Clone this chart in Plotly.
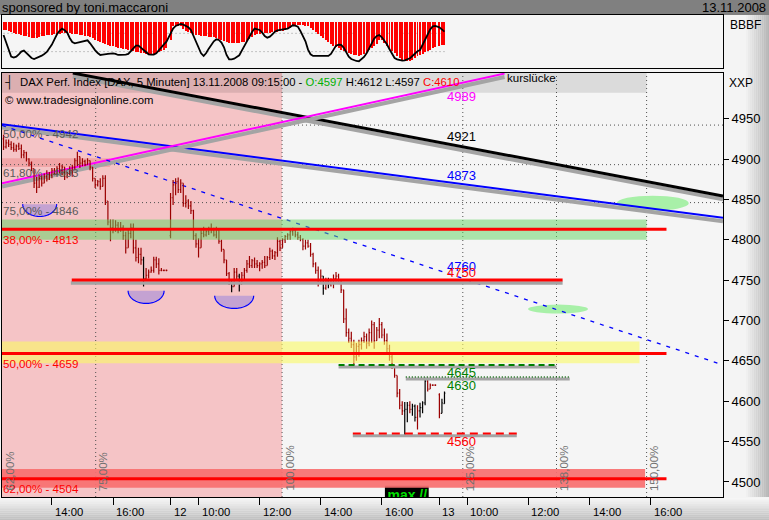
import numpy as np
import pandas as pd
import plotly.graph_objects as go

W, H = 769, 520
FONT = "Liberation Sans, Arial, sans-serif"

# ---------------- DATA ----------------
day0_times = pd.date_range("2008-11-11 12:25", "2008-11-11 17:45", freq="5min")
day1_times = pd.date_range("2008-11-12 09:05", "2008-11-12 17:45", freq="5min")
day2_times = pd.date_range("2008-11-13 09:05", "2008-11-13 09:15", freq="5min")
bar_times = day0_times.append(day1_times).append(day2_times)

opens = [
    4925, 4915, 4920, 4918, 4914, 4912, 4916, 4913, 4905, 4908, 4900, 4895, 4888, 4870, 4865, 4876, 4870, 4878, 4875, 4880,
    4886, 4882, 4888, 4886, 4890, 4878, 4882, 4886, 4890, 4898, 4903, 4895, 4897, 4893, 4898, 4890, 4876, 4868, 4872, 4866,
    4876, 4848, 4822, 4815, 4812, 4818, 4812, 4815, 4805, 4790, 4808, 4815, 4790, 4778, 4782, 4775, 4752, 4756, 4760, 4762,
    4775, 4770, 4762, 4762, 4762,
    4805, 4852, 4868, 4872, 4862, 4870, 4845, 4848, 4842, 4836, 4805, 4795, 4790, 4808, 4806, 4810, 4814, 4812, 4806, 4812,
    4798, 4788, 4775, 4758, 4748, 4742, 4760, 4755, 4745, 4756, 4762, 4770, 4768, 4774, 4770, 4768, 4770, 4772, 4768, 4778,
    4786, 4780, 4784, 4798, 4790, 4800, 4804, 4806, 4810, 4812, 4806, 4803, 4800, 4792, 4796, 4792, 4782, 4770, 4762, 4750,
    4755, 4740, 4748, 4745, 4750, 4752, 4755, 4750, 4738, 4702, 4685, 4678, 4670, 4655, 4668, 4670, 4675, 4680, 4672, 4685,
    4695, 4675, 4688, 4695, 4682, 4675, 4665, 4655, 4645, 4632, 4610, 4595, 4588, 4590, 4595, 4590, 4594, 4580, 4588, 4592,
    4598, 4625, 4615, 4620, 4620,
    4608, 4585, 4597,
]
highs = [
    4930, 4924, 4924, 4922, 4920, 4918, 4920, 4918, 4911, 4909, 4901, 4897, 4888, 4878, 4880, 4880, 4882, 4886, 4884, 4889,
    4889, 4891, 4895, 4893, 4890, 4884, 4891, 4893, 4901, 4909, 4903, 4901, 4899, 4901, 4898, 4890, 4876, 4874, 4876, 4880,
    4880, 4848, 4825, 4825, 4824, 4822, 4822, 4818, 4810, 4814, 4820, 4820, 4800, 4790, 4790, 4779, 4765, 4763, 4767, 4779,
    4779, 4777, 4765, 4763, 4763,
    4858, 4874, 4876, 4877, 4875, 4870, 4855, 4850, 4848, 4837, 4808, 4802, 4812, 4816, 4812, 4816, 4820, 4815, 4816, 4812,
    4800, 4788, 4775, 4760, 4750, 4765, 4765, 4758, 4760, 4765, 4775, 4780, 4776, 4778, 4775, 4772, 4775, 4780, 4780, 4790,
    4788, 4786, 4803, 4800, 4802, 4806, 4808, 4812, 4815, 4814, 4810, 4806, 4802, 4800, 4800, 4796, 4784, 4772, 4767, 4763,
    4755, 4753, 4753, 4752, 4757, 4760, 4758, 4750, 4738, 4715, 4690, 4686, 4676, 4672, 4676, 4679, 4686, 4684, 4690, 4700,
    4698, 4692, 4703, 4698, 4690, 4684, 4670, 4660, 4645, 4632, 4615, 4600, 4599, 4599, 4600, 4597, 4596, 4595, 4598, 4600,
    4629, 4629, 4622, 4621, 4621,
    4610, 4603, 4612,
]
lows = [
    4911, 4913, 4915, 4911, 4909, 4909, 4911, 4901, 4901, 4897, 4891, 4885, 4864, 4858, 4864, 4866, 4870, 4872, 4874, 4876,
    4880, 4880, 4882, 4880, 4874, 4876, 4880, 4878, 4886, 4891, 4889, 4891, 4891, 4893, 4886, 4872, 4864, 4866, 4862, 4866,
    4843, 4818, 4798, 4808, 4810, 4808, 4810, 4800, 4783, 4790, 4802, 4783, 4773, 4771, 4769, 4742, 4750, 4752, 4759, 4759,
    4765, 4757, 4761, 4761, 4761,
    4802, 4843, 4855, 4858, 4858, 4841, 4840, 4838, 4832, 4800, 4790, 4778, 4790, 4803, 4804, 4806, 4808, 4804, 4802, 4795,
    4785, 4771, 4755, 4744, 4735, 4742, 4750, 4736, 4745, 4750, 4759, 4765, 4765, 4765, 4765, 4761, 4764, 4765, 4768, 4775,
    4776, 4775, 4779, 4786, 4790, 4796, 4800, 4800, 4805, 4803, 4800, 4798, 4787, 4788, 4790, 4779, 4766, 4758, 4742, 4747,
    4732, 4738, 4740, 4742, 4740, 4748, 4748, 4734, 4697, 4680, 4672, 4666, 4645, 4650, 4655, 4664, 4672, 4665, 4668, 4672,
    4665, 4675, 4678, 4678, 4670, 4661, 4650, 4640, 4629, 4605, 4590, 4583, 4556, 4574, 4585, 4582, 4575, 4565, 4580, 4585,
    4595, 4612, 4615, 4619, 4619,
    4579, 4585, 4597,
]
closes = [
    4915, 4920, 4918, 4914, 4912, 4916, 4913, 4905, 4908, 4900, 4895, 4888, 4870, 4865, 4876, 4870, 4878, 4875, 4880, 4886,
    4882, 4888, 4886, 4890, 4878, 4882, 4886, 4890, 4898, 4903, 4895, 4897, 4893, 4898, 4890, 4876, 4868, 4872, 4866, 4876,
    4848, 4822, 4815, 4812, 4818, 4812, 4815, 4805, 4790, 4808, 4815, 4790, 4778, 4782, 4775, 4752, 4756, 4760, 4762, 4775,
    4770, 4762, 4762, 4762, 4762,
    4852, 4868, 4872, 4862, 4870, 4845, 4848, 4842, 4836, 4805, 4795, 4790, 4808, 4806, 4810, 4814, 4812, 4806, 4812, 4798,
    4788, 4775, 4758, 4748, 4742, 4760, 4755, 4745, 4756, 4762, 4770, 4768, 4774, 4770, 4768, 4770, 4772, 4768, 4778, 4786,
    4780, 4784, 4798, 4790, 4800, 4804, 4806, 4810, 4812, 4806, 4803, 4800, 4792, 4796, 4792, 4782, 4770, 4762, 4750, 4755,
    4740, 4748, 4745, 4750, 4752, 4755, 4750, 4738, 4702, 4685, 4678, 4670, 4655, 4668, 4670, 4675, 4680, 4672, 4685, 4695,
    4675, 4688, 4695, 4682, 4675, 4665, 4655, 4645, 4632, 4610, 4595, 4588, 4590, 4595, 4590, 4594, 4580, 4588, 4592, 4598,
    4625, 4615, 4620, 4620, 4620,
    4585, 4598, 4610,
]
black_bars = [55, 89, 92, 125, 127, 157, 158, 160, 161, 163, 164, 165, 171, 172]

# oscillator panel (arbitrary indicator units)
osc_line = [
    95, 75, 52, 30, 27, 30, 37, 45, 48, 40, 33, 26, 23, 26, 29, 33, 38, 44, 55, 66,
    82, 97, 107, 114, 109, 102, 86, 74, 70, 72, 73, 75, 77, 79, 70, 58, 49, 41, 35, 36,
    38, 38, 39, 40, 38, 35, 35, 35, 36, 38, 47, 55, 63, 63, 57, 49, 43, 37, 36, 36,
    40, 50, 60, 67, 75,
    100, 114, 122, 126, 128, 126, 123, 118, 110, 93, 74, 55, 40, 32, 41, 54, 67, 76, 82, 80,
    72, 58, 35, 22, 22, 24, 29, 34, 48, 62, 77, 93, 104, 114, 113, 110, 102, 92, 87, 90,
    97, 105, 109, 110, 110, 112, 114, 119, 124, 123, 120, 107, 92, 76, 51, 37, 32, 32, 32, 32,
    32, 32, 32, 38, 52, 63, 66, 65, 57, 42, 30, 23, 19, 17, 16, 22, 29, 40, 56, 71,
    84, 92, 95, 88, 79, 67, 52, 38, 26, 22, 19, 18, 19, 22, 25, 32, 40, 46, 50, 66,
    82, 98, 112, 121, 122,
    118, 112, 105,
]
osc_hist_low = [
    110, 108, 105, 102, 100, 98, 97, 95, 92, 90, 88, 85, 84, 85, 87, 90, 92, 93, 94, 95,
    96, 97, 98, 99, 100, 100, 99, 98, 97, 96, 95, 94, 92, 90, 87, 84, 80, 76, 73, 70,
    67, 65, 62, 60, 58, 56, 54, 52, 51, 50, 48, 46, 44, 42, 40, 39, 38, 37, 36, 37,
    38, 42, 46, 50, 55,
    80, 120, 122, 122, 120, 112, 107, 104, 100, 96, 94, 93, 92, 90, 90, 89, 88, 88, 85, 82,
    79, 76, 73, 71, 70, 69, 69, 70, 72, 74, 76, 82, 88, 94, 96, 98, 99, 100, 100, 101,
    102, 103, 104, 105, 106, 108, 112, 116, 120, 122, 123, 123, 123, 122, 120, 115, 108, 102, 96, 90,
    84, 78, 73, 68, 62, 58, 54, 50, 46, 43, 40, 37, 35, 33, 32, 34, 38, 44, 50, 55,
    60, 68, 78, 80, 70, 60, 52, 45, 40, 32, 25, 20, 17, 16, 17, 20, 25, 30, 35, 38,
    42, 46, 50, 54, 58,
    60, 63, 65,
]
OSC_TOP = 133
osc_guides = [100, 45]

# price axis
y_ticks = [4500, 4550, 4600, 4650, 4700, 4750, 4800, 4850, 4900, 4950]
price_range = [4481.4, 5006.5]
time_range = ["2008-11-11 12:22", "2008-11-13 18:22"]
x_tick_times = ["2008-11-11 14:00", "2008-11-11 16:00", "2008-11-12 09:05", "2008-11-12 10:00",
                "2008-11-12 12:00", "2008-11-12 14:00", "2008-11-12 16:00", "2008-11-13 09:05",
                "2008-11-13 10:00", "2008-11-13 12:00", "2008-11-13 14:00", "2008-11-13 16:00"]
x_tick_text = ["14:00", "16:00", "12", "10:00", "12:00", "14:00", "16:00", "13",
               "10:00", "12:00", "14:00", "16:00"]

# Fibonacci price retracements
fib_gray_levels = [4942, 4893, 4846]
fib_gray_text = ["50,00% - 4942", "61,80% - 4893", "75,00% - 4846"]
fib_red_levels = [4813, 4659, 4504]
fib_red_text = ["38,00% - 4813", "50,00% - 4659", "62,00% - 4504"]
red_line_end = "2008-11-13 16:31"

# Fibonacci time projections
time_fib_times = ["2008-11-11 12:22", "2008-11-11 15:26", "2008-11-12 12:44",
                  "2008-11-13 09:51", "2008-11-13 12:55", "2008-11-13 15:52"]
time_fib_text = ["62,00%", "75,00%", "100,00%", "125,00%", "138,00%", "150,00%"]

# zones (price low, price high, end time)
zone_green = (4800, 4825, "2008-11-13 15:52")
zone_yellow = (4647, 4674, "2008-11-13 15:38")
zone_red = (4493, 4516, "2008-11-13 15:49")
zone_pink_small = (4890, 4901, "2008-11-11 15:54")

# trend lines: (start time, start price, end time, end price)
trend_black = ("2008-11-11 14:41", 5006.4, "2008-11-13 18:22", 4854.2)
trend_magenta = ("2008-11-11 12:22", 4870.0, "2008-11-13 11:13", 5005.8)
trend_blue = ("2008-11-11 12:22", 4943.1, "2008-11-13 18:22", 4827.1)
trend_blue_dash = ("2008-11-11 12:22", 4941.6, "2008-11-13 18:11", 4647.3)

# horizontal level lines: (price, start, end)
level_4750 = (4750, "2008-11-11 14:39", "2008-11-13 13:07")
level_4645 = (4645, "2008-11-12 14:35", "2008-11-13 12:55")
level_4630 = (4630, "2008-11-12 16:47", "2008-11-13 13:21")
level_4560 = (4560, "2008-11-12 15:03", "2008-11-13 11:37")

# ellipses: (centre time, centre price, half width hours, half height price)
target_ellipses = [("2008-11-13 16:04", 4845.3, 1.18, 9.3), ("2008-11-13 12:58", 4714.1, 0.98, 5.6)]
# cups: (centre time, top price, half width hours, depth price)
cups = [("2008-11-11 13:36", 4844.1, 0.556, 15.3), ("2008-11-11 17:05", 4736.8, 0.589, 15.7),
        ("2008-11-12 11:10", 4730.6, 0.638, 15.7)]

# price labels: (text, price, colour, yshift px)
price_labels = [("4989", 4989, "#FF00FF", -9), ("4921", 4921, "#000000", 6), ("4873", 4873, "#0000FF", 5),
                ("4760", 4760, "#0000FF", 6), ("4750", 4750, "#FF0000", 8), ("4645", 4645, "#008000", -8),
                ("4630", 4630, "#008000", -8), ("4560", 4560, "#FF0000", -8)]
label_time = "2008-11-13 09:16"

# ---------------- helpers ----------------
DAY0 = pd.Timestamp("2008-11-11")
SESSION = 8.8


def tx(t):
    t = pd.Timestamp(t)
    d = (t.normalize() - DAY0).days
    return d * SESSION + t.hour + t.minute / 60.0 - 9.0


def px(xp):
    return xp / W


def py(yp):
    return 1 - yp / H


n = len(bar_times)
for name, arr in [("opens", opens), ("highs", highs), ("lows", lows), ("closes", closes),
                  ("osc_line", osc_line), ("osc_hist_low", osc_hist_low)]:
    assert len(arr) == n, f"{name} has {len(arr)} values, expected {n}"

xb = np.array([tx(t) for t in bar_times])
x_lo, x_hi = tx(time_range[0]), tx(time_range[1])

XD = [px(2), px(723)]
YD_MAIN = [py(497), py(73)]
YD_IND = [py(68.3), py(15.3)]

fig = go.Figure()

# ---------------- traces ----------------
o = np.array(opens); h_ = np.array(highs); l_ = np.array(lows); c = np.array(closes)
is_black = np.isin(np.arange(n), black_bars)
for mask, col in [(~is_black, "#9A0000"), (is_black, "#000000")]:
    fig.add_trace(go.Ohlc(x=xb[mask], open=o[mask], high=h_[mask], low=l_[mask], close=c[mask],
                          increasing=dict(line=dict(color=col, width=1.2)),
                          decreasing=dict(line=dict(color=col, width=1.2)),
                          tickwidth=0.35, xaxis="x", yaxis="y", hoverinfo="skip", showlegend=False))

hl = np.array(osc_hist_low)
fig.add_trace(go.Bar(x=xb, y=OSC_TOP - hl, base=hl, width=0.032, marker=dict(color="#FF0000", line=dict(width=0)),
                     xaxis="x2", yaxis="y2", hoverinfo="skip", showlegend=False))
fig.add_trace(go.Scatter(x=xb, y=osc_line, mode="lines", line=dict(color="#000000", width=1.8),
                         xaxis="x2", yaxis="y2", hoverinfo="skip", showlegend=False))
# "max //" marker (clipped by the plot frame)
fig.add_trace(go.Scatter(x=[tx("2008-11-12 16:50")], y=[4482.5], mode="text", text=["<b>max //</b>"],
                         textfont=dict(color="#00E000", size=14, family=FONT), xaxis="x", yaxis="y",
                         hoverinfo="skip", showlegend=False))

shapes = []


def rect(x0, x1, y0, y1, color, xref="paper", yref="paper", layer="below"):
    shapes.append(dict(type="rect", xref=xref, yref=yref, x0=x0, x1=x1, y0=y0, y1=y1,
                       fillcolor=color, line=dict(width=0), layer=layer))


def seg(x0, y0, x1, y1, color, width, dash="solid", layer="below", xref="x", yref="y"):
    shapes.append(dict(type="line", xref=xref, yref=yref, x0=x0, y0=y0, x1=x1, y1=y1,
                       line=dict(color=color, width=width, dash=dash), layer=layer))


# --- page chrome ---
rect(0, 1, py(15), 1, "#808080")
rect(px(723), px(746), py(497), py(15), "#F4F4F4")
steps = 12
for k in range(steps):
    g = int(240 - (240 - 182) * k / (steps - 1))
    rect(px(746 + 23 * k / steps), px(746 + 23 * (k + 1) / steps), py(497), py(15), f"rgb({g},{g},{g})")
for k in range(steps):
    g = int(246 - (246 - 192) * k / (steps - 1))
    y0 = 498 + 22 * k / steps
    rect(0, 1, py(y0 + 22 / steps), py(y0), f"rgb({g},{g},{g})")

# --- main panel background items ---
rect(x_lo, tx(time_fib_times[2]), 0, 1, "#F5C4C6", xref="x", yref="y domain")
rect(x_lo, tx(zone_green[2]), 1 - 19.7 / 424, 1, "rgba(0,0,0,0.105)", xref="x", yref="y domain")
rect(x_lo, tx(zone_pink_small[2]), zone_pink_small[0], zone_pink_small[1], "rgba(235,110,110,0.35)",
     xref="x", yref="y")

for t in time_fib_times[1:]:
    seg(tx(t), 0, tx(t), 1, "#505050", 1, dash="1px,3px", yref="y domain")
for lv in fib_gray_levels:
    seg(x_lo, lv, x_hi, lv, "#505050", 1, dash="1px,3px")

for (tc, pc, hw, hh) in target_ellipses:
    shapes.append(dict(type="circle", xref="x", yref="y", x0=tx(tc) - hw, x1=tx(tc) + hw,
                       y0=pc - hh, y1=pc + hh, fillcolor="#A8F0A8", line=dict(width=0), layer="below"))

for (tc, top, hw, dep) in cups:
    cx = tx(tc)
    tt = np.linspace(0, np.pi, 40)
    xs = cx - hw * np.cos(tt)
    ys = top - dep * np.sin(tt)
    pts = " L ".join(f"{a:.4f},{b:.3f}" for a, b in zip(xs, ys))
    shapes.append(dict(type="path", xref="x", yref="y", path="M " + pts + " Z",
                       fillcolor="#C4A2D2", line=dict(width=0), layer="below"))
    shapes.append(dict(type="path", xref="x", yref="y", path="M " + pts,
                       fillcolor="rgba(0,0,0,0)", line=dict(color="#0000FF", width=1.2), layer="below"))

SH = 4.2  # shadow offset in price units
for (t0, p0, t1, p1), col, wd in [(trend_black, "#000000", 3), (trend_blue, "#0000FF", 2),
                                  (trend_magenta, "#FF00FF", 2)]:
    seg(tx(t0), p0 - SH, tx(t1), p1 - SH, "#A4A4A4", 4)
    seg(tx(t0), p0, tx(t1), p1, col, wd)
t0, p0, t1, p1 = trend_blue_dash
seg(tx(t0), p0, tx(t1), p1, "#0000FF", 1.3, dash="4px,6px")

# --- overlays above bars ---
rect(x_lo, tx(zone_green[2]), zone_green[0], zone_green[1], "rgba(95,212,95,0.5)", xref="x", yref="y", layer="above")
rect(x_lo, tx(zone_yellow[2]), zone_yellow[0], zone_yellow[1], "rgba(250,250,100,0.6)", xref="x", yref="y", layer="above")
rect(x_lo, tx(zone_red[2]), zone_red[0], zone_red[1], "rgba(248,112,112,0.93)", xref="x", yref="y", layer="above")
for lv in fib_red_levels:
    seg(x_lo, lv, tx(red_line_end), lv, "#FF0000", 3, layer="above")

lv, a, b = level_4750
seg(tx(a) - 0.03, lv - 3.5, tx(b), lv - 3.5, "#A4A4A4", 3.5, layer="above")
seg(tx(a), lv, tx(b), lv, "#FF0000", 3, layer="above")
lv, a, b = level_4645
seg(tx(a), lv - 2.6, tx(b), lv - 2.6, "#A4A4A4", 3, layer="above")
seg(tx(a), lv, tx(b), lv, "#008000", 2, dash="6px,4px", layer="above")
lv, a, b = level_4630
seg(tx(a), lv - 2.6, tx(b), lv - 2.6, "#A4A4A4", 3, layer="above")
seg(tx(a), lv, tx(b), lv, "#006000", 1.5, dash="1px,2px", layer="above")
lv, a, b = level_4560
seg(tx(a), lv - 2.6, tx(b), lv - 2.6, "#A4A4A4", 3, layer="above")
seg(tx(a), lv, tx(b), lv, "#FF0000", 2, dash="8px,5px", layer="above")

rect(tx("2008-11-12 16:06"), tx("2008-11-12 17:32"), price_range[0], 4495.4, "#000000", xref="x", yref="y",
     layer="below")

for g in osc_guides:
    seg(xb[0], g, xb[-1], g, "#909090", 1, dash="1px,3px", xref="x2", yref="y2")

# ---------------- annotations ----------------
ann = []


def text(x, y, s, color="#000000", size=12, xanchor="left", yanchor="middle", xref="paper", yref="paper",
         xshift=0, yshift=0, angle=0):
    ann.append(dict(x=x, y=y, text=s, xref=xref, yref=yref, xanchor=xanchor, yanchor=yanchor,
                    showarrow=False, xshift=xshift, yshift=yshift, textangle=angle,
                    font=dict(family=FONT, size=size, color=color)))


text(px(0), py(7.5), "sponsored by toni.maccaroni", size=13)
text(px(768), py(7.5), "13.11.2008", size=13, xanchor="right")
text(px(728), py(25), "BBBF", size=12)
text(px(727), py(83), "XXP", size=12)
text(px(3), py(82), "┤", size=12)
text(px(18), py(82),
     "DAX Perf. Index [DAX, 5 Minuten] 13.11.2008 09:15:00 - <span style='color:#00B000'>O:4597</span>"
     " H:4612 L:4597 <span style='color:#FF0000'>C:4610</span>", size=11.3)
text(px(3), py(100.5), "© www.tradesignalonline.com", size=11.3)
text(tx("2008-11-13 11:13"), py(77.5), "kurslücke", size=11.5, xref="x")

for lv, s in zip(fib_gray_levels, fib_gray_text):
    text(x_lo, lv, s, color="#5A5A5A", size=11.6, xref="x", yref="y", xshift=-1, yshift=-8)
for lv, s in zip(fib_red_levels, fib_red_text):
    text(x_lo, lv, s, color="#FF0000", size=11.6, xref="x", yref="y", xshift=-1, yshift=-10)

for t, s in zip(time_fib_times, time_fib_text):
    text(tx(t), py(493), s, color="#707070", size=11.5, xref="x", xanchor="center", yanchor="bottom",
         xshift=7, angle=-90)

for s, lv, col, ys in price_labels:
    text(tx(label_time), lv, s, color=col, size=13, xref="x", yref="y", yshift=ys)

for t, s in zip(x_tick_times, x_tick_text):
    text(tx(t), py(512), s, size=11.3, xref="x", xshift=1)

# ---------------- layout ----------------
axis_common = dict(showgrid=False, zeroline=False, showline=True, mirror=True, linecolor="#000000", linewidth=1)
fig.update_layout(
    width=W, height=H, margin=dict(l=0, r=0, t=0, b=0),
    paper_bgcolor="#F4F4F4", plot_bgcolor="#F5F5F5",
    showlegend=False, bargap=0,
    font=dict(family=FONT, size=12, color="#000000"),
    xaxis=dict(domain=XD, range=[x_lo, x_hi], anchor="y", tickvals=[tx(t) for t in x_tick_times],
               ticks="outside", ticklen=7, tickcolor="#000000", showticklabels=False,
               rangeslider=dict(visible=False), **axis_common),
    yaxis=dict(domain=YD_MAIN, range=price_range, anchor="x", side="right", tickvals=y_ticks,
               ticks="outside", ticklen=5, tickcolor="#000000", tickfont=dict(size=13, family=FONT),
               **axis_common),
    xaxis2=dict(domain=XD, matches="x", anchor="y2", showticklabels=False, ticks="",
                rangeslider=dict(visible=False), **axis_common),
    yaxis2=dict(domain=YD_IND, range=[-5, 154], anchor="x2", showticklabels=False, ticks="", **axis_common),
    shapes=shapes, annotations=ann,
)

fig.write_html("out.html", config={"displayModeBar": False},
               post_script="document.body.style.margin='0';document.body.style.overflow='hidden';")
